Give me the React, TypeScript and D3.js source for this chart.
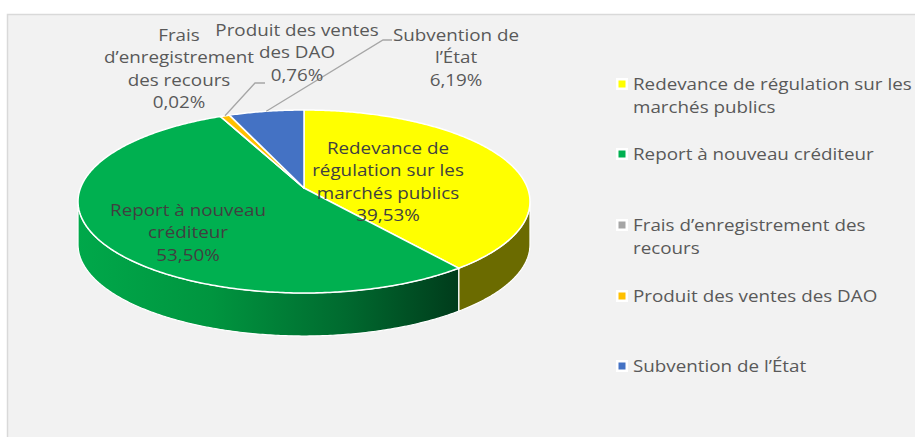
import React, { useEffect, useRef } from 'react';
import * as d3 from 'd3';

// catégories et valeurs (%)
const categories = [
    "Redevance de régulation sur les marchés publics",
    "Report à nouveau créditeur",
    "Frais d’enregistrement des recours",
    "Produit des ventes des DAO",
    "Subvention de l’État",
];
const values = [39.53, 53.50, 0.02, 0.76, 6.19];
const colors = ["#FFFF00", "#00B050", "#A5A5A5", "#FFC000", "#4472C4"];
const sideColors = ["#6b6b00", "url(#greenSide)", "#636363", "#997300", "#294577"];

// texte des étiquettes (sans le pourcentage)
const labelLines = [
    ["Redevance de", "régulation sur les", "marchés publics"],
    ["Report à nouveau", "créditeur"],
    ["Frais", "d’enregistrement", "des recours"],
    ["Produit des ventes", "des DAO"],
    ["Subvention de", "l’État"],
];
const legendLines = [
    ["Redevance de régulation sur les", "marchés publics"],
    ["Report à nouveau créditeur"],
    ["Frais d’enregistrement des", "recours"],
    ["Produit des ventes des DAO"],
    ["Subvention de l’État"],
];

const W = 915, H = 437;

export default function App() {
    const ref = useRef<SVGSVGElement>(null);

    useEffect(() => {
        const svg = d3.select(ref.current);
        svg.selectAll("*").remove();

        const font = "'Open Sans', Lato, sans-serif";
        const fs = 16.5, sx = 1.14; // le texte de l'original est étiré horizontalement
        const fmt = (v: number) => v.toFixed(2).replace(".", ",") + "%";

        // géométrie du camembert 3D (projection en perspective)
        const cx = 304, cy = 188, A = 223.5, B = 89.5, e = 0.1475, depth = 43;
        const proj = (t: number, r = 1): [number, number] => {
            const d = 1 - e * r * Math.sin(t);
            return [cx + A * r * Math.cos(t) / d, cy + B * r * Math.sin(t) / d];
        };
        const arcPts = (t0: number, t1: number) => {
            const n = Math.max(2, Math.ceil(Math.abs(t1 - t0) / 0.01));
            return d3.range(n + 1).map(i => proj(t0 + (t1 - t0) * i / n));
        };

        const pie = d3.pie<number>().sort(null).value(d => d);
        const arcs = pie(values).map(a => ({ ...a, t0: a.startAngle - Math.PI / 2, t1: a.endAngle - Math.PI / 2 }));

        const defs = svg.append("defs");
        const g1 = defs.append("linearGradient").attr("id", "greenSide")
            .attr("gradientUnits", "userSpaceOnUse").attr("x1", 78).attr("x2", 460).attr("y1", 0).attr("y2", 0);
        [["0", "#00a84a"], ["0.35", "#00953f"], ["0.7", "#006a2f"], ["1", "#003b1b"]]
            .forEach(([o, c]) => g1.append("stop").attr("offset", o).attr("stop-color", c));

        // fond
        svg.append("rect").attr("x", 7.5).attr("y", 14.5).attr("width", W).attr("height", H)
            .attr("fill", "#f2f2f2").attr("stroke", "#d9d9d9").attr("stroke-width", 1.5);

        const line = d3.line();

        // côtés visibles
        const tR = Math.asin(e), tL = Math.PI - Math.asin(e);
        arcs.forEach((a, i) => {
            const s = Math.max(a.t0, tR), en = Math.min(a.t1, tL);
            if (en <= s) return;
            const top = arcPts(s, en);
            const bot = top.slice().reverse().map(([x, y]) => [x, y + depth] as [number, number]);
            svg.append("path").attr("d", line([...top, ...bot]) + "Z")
                .attr("fill", sideColors[i]).attr("stroke", "#fff").attr("stroke-width", 1.2)
                .attr("stroke-linejoin", "round");
        });

        // faces supérieures
        arcs.forEach((a, i) => {
            const pts = [proj(0, 0), ...arcPts(a.t0, a.t1)];
            svg.append("path").attr("d", line(pts) + "Z")
                .attr("fill", colors[i]).attr("stroke", "#fff").attr("stroke-width", 1.5)
                .attr("stroke-linejoin", "round");
        });

        // lignes de rappel
        const leaders: [number, [number, number][]][] = [
            [3, [[255, 83], [265, 83]]],
            [4, [[383, 40], [392, 40]]],
        ];
        leaders.forEach(([i, rest]) => {
            const m = (arcs[i].t0 + arcs[i].t1) / 2;
            svg.append("path").attr("d", line([proj(m), ...rest]))
                .attr("fill", "none").attr("stroke", "#a6a6a6").attr("stroke-width", 1.3);
        });

        // étiquettes de données
        const labelPos: [number, number, string][] = [
            [388, 148, "#404040"],
            [188, 210, "#404040"],
            [179, 35, "#595959"],
            [297, 30, "#595959"],
            [456, 35, "#595959"],
        ];
        labelLines.forEach((lines, i) => {
            const [x, y, c] = labelPos[i];
            const t = svg.append("text").attr("font-family", font).attr("font-size", fs)
                .attr("fill", c).attr("text-anchor", "middle")
                .attr("transform", `translate(${x},${y}) scale(${sx},1)`);
            [...lines, fmt(values[i])].forEach((s, k) => {
                t.append("tspan").attr("x", 0).attr("y", k * 22.5).attr("dy", "0.35em").text(s);
            });
        });

        // légende
        const rowY = [84, 154, 225, 296, 366];
        const lg = svg.append("g").attr("font-family", font).attr("font-size", fs).attr("fill", "#595959");
        categories.forEach((name, i) => {
            const y = rowY[i];
            lg.append("rect").attr("x", 616).attr("y", y - 6).attr("width", 12).attr("height", 12).attr("fill", "#fff");
            lg.append("rect").attr("x", 618.5).attr("y", y - 3.5).attr("width", 7).attr("height", 7).attr("fill", colors[i]);
            const t = lg.append("text").attr("transform", `translate(633,${y}) scale(${sx},1)`);
            legendLines[i].forEach((s, k) => {
                t.append("tspan").attr("x", 0).attr("y", k * 23).attr("dy", "0.35em").text(s);
            });
            t.append("title").text(name);
        });
    }, []);

    return (
        <svg ref={ref} width={W} height={H}
            style={{ position: "absolute", left: 0, top: 0, background: "#fff" }} />
    );
}
